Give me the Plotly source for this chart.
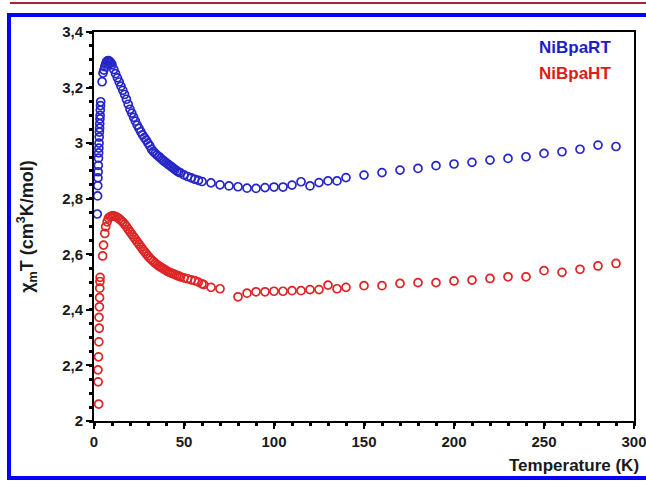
import plotly.graph_objects as go

# ---- data ----
T_RT = [1.8, 2.0, 2.1, 2.2, 2.3, 2.4, 2.5, 2.6, 2.7, 2.8, 2.9, 3.0, 3.1, 3.2, 3.3, 3.4, 3.5, 3.6, 3.7,
        4.5, 5.0, 5.5, 6.0, 6.5, 7.0, 7.5, 8.0, 8.5, 9.0, 9.5, 10,
        11, 12, 13, 14, 15, 16, 17, 18, 19, 20, 21, 22, 23, 24, 25, 26, 27, 28, 29, 30,
        31, 32, 33, 34, 35, 36, 37, 38, 39, 40, 41, 42, 43, 44, 45, 46, 47, 48,
        50, 52, 54, 56, 58, 60,
        65, 70, 75, 80, 85, 90, 95, 100, 105, 110, 115, 120, 125, 130, 135, 140,
        150, 160, 170, 180, 190, 200, 210, 220, 230, 240, 250, 260, 270, 280, 290]
chi_RT = [2.745, 2.81, 2.847, 2.875, 2.897, 2.92, 2.946, 2.965, 2.982, 3.0, 3.022, 3.04, 3.054, 3.07,
          3.087, 3.10, 3.119, 3.135, 3.149,
          3.221, 3.252, 3.263, 3.275, 3.285, 3.293, 3.296, 3.297, 3.295, 3.292, 3.288, 3.282,
          3.265, 3.25, 3.235, 3.22, 3.205, 3.19, 3.175, 3.158, 3.14, 3.122, 3.108, 3.093, 3.079,
          3.065, 3.053, 3.041, 3.03, 3.02, 3.011, 3.0,
          2.99, 2.978, 2.97, 2.963, 2.957, 2.952, 2.946, 2.94, 2.935, 2.93, 2.925, 2.92, 2.915,
          2.91, 2.905, 2.90, 2.896, 2.893,
          2.886, 2.88, 2.875, 2.87, 2.866, 2.862,
          2.857, 2.85, 2.846, 2.843, 2.838, 2.837, 2.84, 2.842, 2.842, 2.849, 2.861, 2.846,
          2.858, 2.864, 2.864, 2.876,
          2.885, 2.894, 2.903, 2.909, 2.919, 2.925, 2.931, 2.939, 2.945, 2.951, 2.963, 2.969,
          2.978, 2.993, 2.988]

T_HT = [2.6, 2.3, 2.2, 2.5, 2.7, 2.9, 2.8, 3.0, 3.1, 3.2, 3.3, 3.4,
        4.8, 5.3, 6.0, 6.5, 7.3, 8.0,
        9, 10, 11, 12, 13, 14, 15, 16, 17, 18, 19, 20, 21, 22, 23, 24, 25, 26, 27, 28, 29, 30,
        31, 32, 33, 34, 35, 36, 37, 38, 39, 40, 41, 42, 43, 44, 45, 46, 47, 48,
        50, 52, 54, 56, 58, 60, 61, 65, 70,
        80, 85, 90, 95, 100, 105, 110, 115, 120, 125, 130, 135, 140,
        150, 160, 170, 180, 190, 200, 210, 220, 230, 240, 250, 260, 270, 280, 290]
chi_HT = [2.061, 2.141, 2.184, 2.231, 2.285, 2.334, 2.373, 2.411, 2.444, 2.478, 2.502, 2.517,
          2.594, 2.633, 2.675, 2.699, 2.717, 2.73,
          2.735, 2.738, 2.738, 2.736, 2.732, 2.728, 2.722, 2.716, 2.708, 2.70, 2.69, 2.681,
          2.672, 2.663, 2.654, 2.645, 2.636, 2.627, 2.618, 2.61, 2.602, 2.594,
          2.586, 2.58, 2.574, 2.568, 2.563, 2.558, 2.554, 2.55, 2.546, 2.542, 2.538, 2.535,
          2.532, 2.53, 2.527, 2.524, 2.522, 2.519,
          2.515, 2.512, 2.508, 2.505, 2.50, 2.494, 2.491, 2.481, 2.476,
          2.447, 2.46, 2.465, 2.465, 2.467, 2.467, 2.469, 2.469, 2.473, 2.473, 2.489, 2.476, 2.481,
          2.487, 2.487, 2.495, 2.498, 2.498, 2.504, 2.507, 2.513, 2.519, 2.519, 2.541, 2.535,
          2.546, 2.558, 2.567]

x_tickvals = [0, 50, 100, 150, 200, 250, 300]
x_ticktext = ["0", "50", "100", "150", "200", "250", "300"]
y_tickvals = [2.0, 2.2, 2.4, 2.6, 2.8, 3.0, 3.2, 3.4]
y_ticktext = ["2", "2,2", "2,4", "2,6", "2,8", "3", "3,2", "3,4"]

series_names = ["NiBpaRT", "NiBpaHT"]
BLUE = "rgb(38,38,200)"
RED = "rgb(222,36,36)"
FONT = "Liberation Sans, Arial, sans-serif"

fig = go.Figure()
fig.add_trace(go.Scatter(x=T_RT, y=chi_RT, mode="markers", name=series_names[0],
                         marker=dict(symbol="circle-open", size=8, color=BLUE, line=dict(width=1.7, color=BLUE))))
fig.add_trace(go.Scatter(x=T_HT, y=chi_HT, mode="markers", name=series_names[1],
                         marker=dict(symbol="circle-open", size=8, color=RED, line=dict(width=1.7, color=RED))))

axis_common = dict(showline=True, linecolor="black", linewidth=2, mirror=True,
                   ticks="outside", tickcolor="black", tickwidth=2, ticklen=6,
                   showgrid=False, zeroline=False, ticklabeloverflow="allow",
                   tickfont=dict(family=FONT, size=15, color="#1a1a1a", weight="bold"))

fig.update_xaxes(range=[0, 300], tickvals=x_tickvals, ticktext=x_ticktext,
                 minor=dict(dtick=10, tick0=0, ticks="outside", ticklen=3, tickwidth=3, tickcolor="black"),
                 **axis_common)
fig.update_yaxes(range=[2.0, 3.4], tickvals=y_tickvals, ticktext=y_ticktext,
                 minor=dict(dtick=0.05, tick0=2.0, ticks="outside", ticklen=3, tickwidth=3, tickcolor="black"),
                 title=dict(text="χ<sub>m</sub>T (cm<sup>3</sup>K/mol)",
                            font=dict(family=FONT, size=18, color="#1a1a1a", weight="bold"), standoff=24),
                 **axis_common)

def px(xp):
    return (xp - 94) / 540

def py(yp):
    return (421 - yp) / 389

fig.update_layout(
    width=646, height=481,
    margin=dict(l=94, r=12, t=32, b=60, autoexpand=False),
    plot_bgcolor="white", paper_bgcolor="white",
    showlegend=False,
    annotations=[
        dict(text="<b>Temperature (K)</b>", xref="paper", yref="paper", x=px(641), y=py(466),
             xanchor="right", yanchor="middle", showarrow=False,
             font=dict(family=FONT, size=17, color="#1a1a1a")),
        dict(text="<b>" + series_names[0] + "</b>", xref="paper", yref="paper", x=px(613), y=py(48),
             xanchor="right", yanchor="middle", showarrow=False,
             font=dict(family=FONT, size=17, color="rgb(30,30,200)")),
        dict(text="<b>" + series_names[1] + "</b>", xref="paper", yref="paper", x=px(613), y=py(74),
             xanchor="right", yanchor="middle", showarrow=False,
             font=dict(family=FONT, size=17, color="rgb(225,25,25)")),
    ],
    shapes=[
        dict(type="rect", xref="paper", yref="paper", x0=px(9), x1=px(652), y0=py(478), y1=py(15),
             line=dict(color="rgb(0,0,255)", width=4), fillcolor="rgba(0,0,0,0)", layer="below"),
        dict(type="line", xref="paper", yref="paper", x0=px(10), x1=px(646), y0=py(3), y1=py(3),
             line=dict(color="rgb(160,40,60)", width=2)),
    ],
)

fig.write_html("out.html", config={"displayModeBar": False},
               post_script="document.body.style.margin='0';document.body.style.overflow='hidden';")
